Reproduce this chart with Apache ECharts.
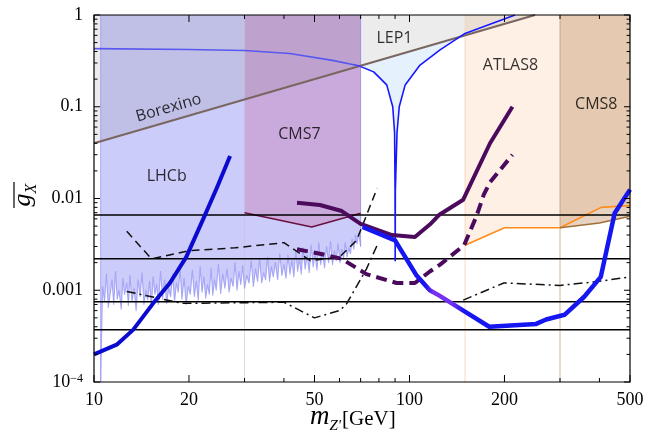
<!DOCTYPE html>
<html><head><meta charset="utf-8">
<script src="https://cdn.jsdelivr.net/npm/echarts@6/dist/echarts.min.js"></script>
<style>html,body{margin:0;padding:0;background:#fff}#c{width:668px;height:445px}</style>
</head><body><div id="c"></div>
<script>
const X_MIN = 10, X_MAX = 500, Y_MIN = 1e-4, Y_MAX = 1;

// tick values and labels
const xTickMajor = [10, 20, 50, 100, 200, 500];
const xTickLabels = ['10', '20', '50', '100', '200', '500'];
const xTickMinor = [30, 40, 60, 70, 80, 90, 300, 400];
const yTickMajor = [1e-4, 1e-3, 1e-2, 0.1, 1];
const yTickLabels = ['10{sup|−4}', '0.001', '0.01', '0.1', '1'];
const yTickMinor = [2e-4,3e-4,4e-4,5e-4,6e-4,7e-4,8e-4,9e-4,
                    2e-3,3e-3,4e-3,5e-3,6e-3,7e-3,8e-3,9e-3,
                    0.02,0.03,0.04,0.05,0.06,0.07,0.08,0.09,
                    0.2,0.3,0.4,0.5,0.6,0.7,0.8,0.9];

// LHCb lower boundary (noisy), mass in GeV, coupling in units of 1e-3
const lhcbNoiseMass = [10.5,10.65,10.8,10.95,11.1,11.25,11.4,11.55,11.7,11.85,12.0,12.2,12.35,12.5,12.7,12.85,13.0,13.2,13.4,13.6,
 13.8,14.0,14.2,14.4,14.6,14.8,15.0,15.2,15.4,15.6,15.8,16.0,16.25,16.5,16.75,17.0,17.25,17.5,17.75,18.0,
 18.25,18.5,18.75,19.0,19.3,19.6,19.9,20.2,20.5,20.8,21.1,21.4,21.7,22.0,22.3,22.6,22.9,23.2,23.5,23.8,
 24.1,24.4,24.8,25.2,25.6,26.0,26.4,26.8,27.2,27.6,28.0,28.4,28.8,29.2,29.6,30.0,30.5,31.0,31.5,32.0,
 32.5,33.0,33.5,34.0,34.5,35.0,35.5,36.0,36.5,37.0,37.6,38.2,38.8,39.4,40.0,40.6,41.2,41.8,42.4,43.0,
 43.6,44.2,44.8,45.4,46.0,46.7,47.4,48.1,48.8,49.5,50.2,50.9,51.6,52.3,53.0,53.8,54.6,55.4,56.2,57.0,
 57.8,58.6,59.4,60.2,61.0,61.8,62.6,63.4,64.2,65.0,65.8,66.6,67.4,68.2,69.0,70.0];
const lhcbNoiseMilli = [0.1,1.1,0.75,1.5,0.65,0.9,1.3,0.7,1.6,0.8,1.0,0.62,1.35,0.9,1.2,0.68,1.45,0.75,1.05,0.6,
 1.3,0.85,1.55,0.7,1.0,0.78,1.25,0.65,1.4,0.9,1.15,0.7,1.6,0.8,1.3,0.72,1.05,0.85,1.5,0.75,
 1.2,0.95,1.7,0.8,1.35,0.7,1.1,0.9,1.65,0.85,1.25,0.78,1.8,0.95,1.4,0.82,1.15,0.9,1.75,0.88,
 1.3,1.0,1.9,0.92,1.5,1.05,1.7,0.95,1.35,1.1,2.0,1.0,1.6,1.15,1.85,1.05,1.45,1.2,2.1,1.1,
 1.7,1.25,2.2,1.2,1.55,1.3,2.3,1.25,1.8,1.4,2.0,1.3,2.5,1.45,1.9,1.35,2.4,1.5,2.1,1.4,
 2.7,1.6,2.2,1.5,2.9,1.7,2.4,1.55,3.1,1.8,2.5,1.65,3.3,1.9,2.6,1.75,3.0,2.0,3.4,1.9,
 2.7,2.1,3.2,2.0,2.8,2.2,3.3,2.3,2.9,2.5,3.6,2.8,4.0,3.2,4.2,3.0];
const lhcbNoise = lhcbNoiseMass.map((m, i) => [m, lhcbNoiseMilli[i] * 1e-3]);

// region lower bounds
const cms7Bound = [[30,0.007],[49,0.0049],[70,0.0069]];
const atlas8Bound = [[150,0.0031],[200,0.0048],[300,0.0048],[405,0.008],[500,0.0084]];
const cms8Bound = [[300,0.0048],[400,0.0054],[500,0.0064]];
const borexino = [[10,0.04],[250,1]];
const lepCurve = [[10,0.43],[20,0.42],[30,0.41],[41.7,0.38],[57,0.32],[69,0.28],[77,0.24],[84.7,0.173],
 [88.5,0.1],[89.7,0.052],[90.0,0.012],[90.1,0.0021],[90.2,0.012],[91.3,0.052],[92.8,0.1],[96.9,0.173],
 [108,0.285],[125,0.416],[150,0.63],[216,1.0]];
const lepFillClose = [[150,0.6],[69,0.276]];

// limit curves
const blueLeft = [[10,2.0e-4],[11.8,2.55e-4],[13.3,3.7e-4],[15.4,7.2e-4],[17.4,1.2e-3],[19.6,2.3e-3],[22.2,6.0e-3],[24.5,0.013],[27,0.029]];
const blueRight = [[71,0.0049],[90,0.0035],[105,0.00147],[116,0.001],[124,0.00088],[146,0.00062],[179,0.0004],
 [252,0.00043],[271,0.00048],[310,0.00054],[358,0.00085],[404,0.0014],[447,0.0069],[500,0.0125]];
const purpleSolid = [[44,0.009],[52,0.0085],[61,0.0073],[70,0.0053],[88,0.004],[104,0.0038],[116,0.0052],
 [124,0.0066],[148,0.0097],[180,0.04],[212,0.1]];
const purpleDashed = [[44,0.0028],[52,0.0025],[61,0.0022],[73,0.0015],[91,0.0012],[104,0.0012],[116,0.0016],
 [125,0.0019],[149,0.0031],[163,0.0064],[172,0.011],[180,0.015],[212,0.03]];
const blackDashed = [[12.7,0.0044],[15.2,0.0022],[20,0.0027],[28,0.0029],[40,0.0033],[48.5,0.0021],[60,0.0023],[68,0.0035],[79,0.013]];
const dashDotLeft = [[12.7,0.00097],[19,0.00072],[40,0.00074],[50,0.0005],[60,0.0006],[63,0.0007],[73,0.0017],[79,0.0031]];
const dashDotRight = [[148,0.00078],[199,0.0012],[300,0.00113],[400,0.00125],[500,0.0014]];
const hLines = [0.0066, 0.0022, 0.00075, 0.00037];
const regionEdges = [[10.5,'rgba(150,150,245,0.8)'],[30,'rgba(200,190,220,0.6)'],[150,'rgba(245,215,190,0.9)'],[300,'rgba(190,150,115,0.7)']];

const annotations = [['LEP1',89.6,0.561,0],['ATLAS8',209,0.285,0],['CMS8',391,0.107,0],['CMS7',44.8,0.0493,0],
 ['LHCb',17.0,0.0172,0],['Borexino',17.25,0.097,16]];

function polySeries(pts, fill, z) {
  return {type:'custom', silent:true, z:z, data:[pts[0]],
    renderItem:(p, api) => ({type:'polygon', shape:{points: pts.map(q => api.coord(q))}, style:{fill:fill}})};
}
function lineSeries(pts, color, width, type, z) {
  return {type:'line', data:pts, symbol:'none', showSymbol:false, silent:true, z:z||5, clip:true,
    lineStyle:{color:color, width:width, type:type||'solid', cap:'butt', join:'round'}};
}

const series = [];
series.push(polySeries([[10.5,1]].concat(lhcbNoise, [[70,1]]), 'rgba(100,100,240,0.33)', 1));
series.push(polySeries([[30,1]].concat(cms7Bound, [[70,1]]), 'rgba(195,90,150,0.3)', 1));
series.push(polySeries([[150,1]].concat(atlas8Bound, [[500,1]]), 'rgba(252,180,120,0.2)', 1));
series.push(polySeries([[300,1]].concat(cms8Bound, [[500,1]]), 'rgba(180,120,70,0.33)', 1));
series.push(polySeries(lepCurve.filter(q => q[0] >= 69 && q[0] <= 150).concat(lepFillClose), 'rgba(170,210,245,0.3)', 1));
series.push(polySeries(borexino.concat([[10,1]]), 'rgba(120,120,120,0.14)', 1));

regionEdges.forEach(e => series.push(lineSeries([[e[0],Y_MIN],[e[0],Y_MAX]], e[1], 1, 'solid', 2)));
series.push(lineSeries([[70,0.003],[70,Y_MAX]], 'rgba(150,120,230,0.7)', 1, 'solid', 2));
series.push(lineSeries(lhcbNoise, 'rgba(140,140,245,0.7)', 1.1, 'solid', 3));
series.push(lineSeries(cms7Bound, '#6a1040', 1.5, 'solid', 4));
series.push(lineSeries(atlas8Bound, '#ff8c1a', 1.6, 'solid', 4));
series.push(lineSeries(cms8Bound, '#a0703a', 1.6, 'solid', 4));
hLines.forEach(y => series.push(lineSeries([[X_MIN,y],[X_MAX,y]], '#000', 1.5, 'solid', 5)));
series.push(lineSeries(borexino, '#7a6660', 2, 'solid', 6));
series.push(lineSeries(lepCurve, new echarts.graphic.LinearGradient(0,0,1,0,[
  {offset:0,color:'#5858f0'},{offset:0.61,color:'#5858f0'},{offset:0.65,color:'#1818ff'},{offset:1,color:'#1818ff'}]), 1.6, 'solid', 6));
series.push(lineSeries(blackDashed, '#111', 1.5, [8,5], 6));
series.push(lineSeries(dashDotLeft, '#111', 1.5, [9,4,2,4], 6));
series.push(lineSeries(dashDotRight, '#111', 1.5, [9,4,2,4], 6));
series.push(lineSeries(purpleSolid, '#4b0a5c', 4, 'solid', 7));
series.push(lineSeries(purpleDashed, '#4b0a5c', 4, [11,6], 7));
series.push(lineSeries(blueLeft, '#0a0ad0', 4, 'solid', 8));
series.push(lineSeries(blueRight, new echarts.graphic.LinearGradient(0,0,1,0,[
  {offset:0,color:'#1616f0'},{offset:0.24,color:'#1616f0'},{offset:0.27,color:'#7a30f0'},
  {offset:0.34,color:'#7030f0'},{offset:0.38,color:'#1616f0'},{offset:1,color:'#1616f0'}]), 4.5, 'solid', 8));

// annotations
series.push({type:'scatter', silent:true, z:20, symbolSize:1, itemStyle:{color:'rgba(0,0,0,0)'},
  data: annotations.map(a => ({name:a[0], value:[a[1],a[2]], label:{rotate:a[3]}})),
  label:{show:true, position:'inside', formatter:'{b}', color:'#000', fontFamily:'Open Sans', fontSize:16}});

// frame
series.push({type:'custom', silent:true, z:30, data:[[X_MIN,Y_MIN]],
  renderItem:(p, api) => { const a = api.coord([X_MIN,Y_MAX]), b = api.coord([X_MAX,Y_MIN]);
    return {type:'rect', shape:{x:a[0], y:a[1], width:b[0]-a[0], height:b[1]-a[1]}, style:{fill:'none', stroke:'#000', lineWidth:1.2}}; }});

// ticks
function tickLine(x1,y1,x2,y2){ return {type:'line', shape:{x1,y1,x2,y2}, style:{stroke:'#000', lineWidth:1}}; }
series.push({type:'custom', silent:true, z:31,
  data: xTickMajor.map(v => [v,Y_MIN,1]).concat(xTickMinor.map(v => [v,Y_MIN,0])),
  renderItem:(p, api) => { const v = api.value(0), len = api.value(2) ? 7 : 4;
    const b = api.coord([v,Y_MIN]), t = api.coord([v,Y_MAX]);
    return {type:'group', children:[tickLine(b[0],b[1],b[0],b[1]-len), tickLine(t[0],t[1],t[0],t[1]+len)]}; }});
series.push({type:'custom', silent:true, z:31,
  data: yTickMajor.map(v => [X_MIN,v,1]).concat(yTickMinor.map(v => [X_MIN,v,0])),
  renderItem:(p, api) => { const v = api.value(1), len = api.value(2) ? 6 : 3.5;
    const l = api.coord([X_MIN,v]), r = api.coord([X_MAX,v]);
    return {type:'group', children:[tickLine(l[0],l[1],l[0]+len,l[1]), tickLine(r[0],r[1],r[0]-len,r[1])]}; }});
// tick labels
const labelRich = {sup:{fontSize:12, fontFamily:'Liberation Serif', verticalAlign:'top', fill:'#000'},
                   n:{fontSize:18, fontFamily:'Liberation Serif', fill:'#000'}};
series.push({type:'custom', silent:true, z:31,
  data: xTickMajor.map((v,i) => [v,Y_MIN,i]),
  renderItem:(p, api) => { const b = api.coord([api.value(0),Y_MIN]);
    return {type:'text', x:b[0], y:b[1]+9, style:{text:xTickLabels[api.value(2)], fill:'#000',
      font:'18px "Liberation Serif"', align:'center', verticalAlign:'top'}}; }});
series.push({type:'custom', silent:true, z:31,
  data: yTickMajor.map((v,i) => [X_MIN,v,i]),
  renderItem:(p, api) => { const l = api.coord([X_MIN,api.value(1)]);
    const txt = yTickLabels[api.value(2)];
    const rich = txt.indexOf('{') >= 0;
    return {type:'text', x:l[0]-11, y:l[1], style:{text: rich ? '{n|10}{sup|−4}' : txt, rich: labelRich, fill:'#000',
      font:'18px "Liberation Serif"', align:'right', verticalAlign:'middle'}}; }});

const option = {
  animation:false,
  grid:{left:94, right:38, top:15, bottom:63, containLabel:false},
  xAxis:{type:'log', logBase:10, min:X_MIN, max:X_MAX, axisLine:{show:false}, axisTick:{show:false}, axisLabel:{show:false}, splitLine:{show:false}},
  yAxis:{type:'log', logBase:10, min:Y_MIN, max:Y_MAX, axisLine:{show:false}, axisTick:{show:false}, axisLabel:{show:false}, splitLine:{show:false}},
  graphic:[
    {type:'text', left:310, top:403, style:{text:'{m|m}{z|Z\'}{u|[GeV]}', rich:{
      m:{fontFamily:'Liberation Serif', fontStyle:'italic', fontSize:27, verticalAlign:'bottom', padding:[0,0,4,0]},
      z:{fontFamily:'Liberation Serif', fontStyle:'italic', fontSize:15, verticalAlign:'bottom'},
      u:{fontFamily:'Liberation Serif', fontSize:21, verticalAlign:'bottom', padding:[0,0,4,1]}}}},
    {type:'group', x:25, y:195, rotation:Math.PI/2, children:[
      {type:'text', x:0, y:0, style:{text:'{g|g}{x|X}', align:'center', verticalAlign:'middle', rich:{
        g:{fontFamily:'Liberation Serif', fontStyle:'italic', fontSize:26, verticalAlign:'bottom', padding:[0,0,4,0]},
        x:{fontFamily:'Liberation Serif', fontStyle:'italic', fontSize:16, verticalAlign:'bottom'}}}},
      {type:'line', shape:{x1:-13, y1:-11, x2:13, y2:-11}, style:{stroke:'#000', lineWidth:1.2}}
    ]}
  ],
  series: series
};
const chart = echarts.init(document.getElementById('c'), null, {renderer:'canvas'});
chart.setOption(option);
</script></body></html>
